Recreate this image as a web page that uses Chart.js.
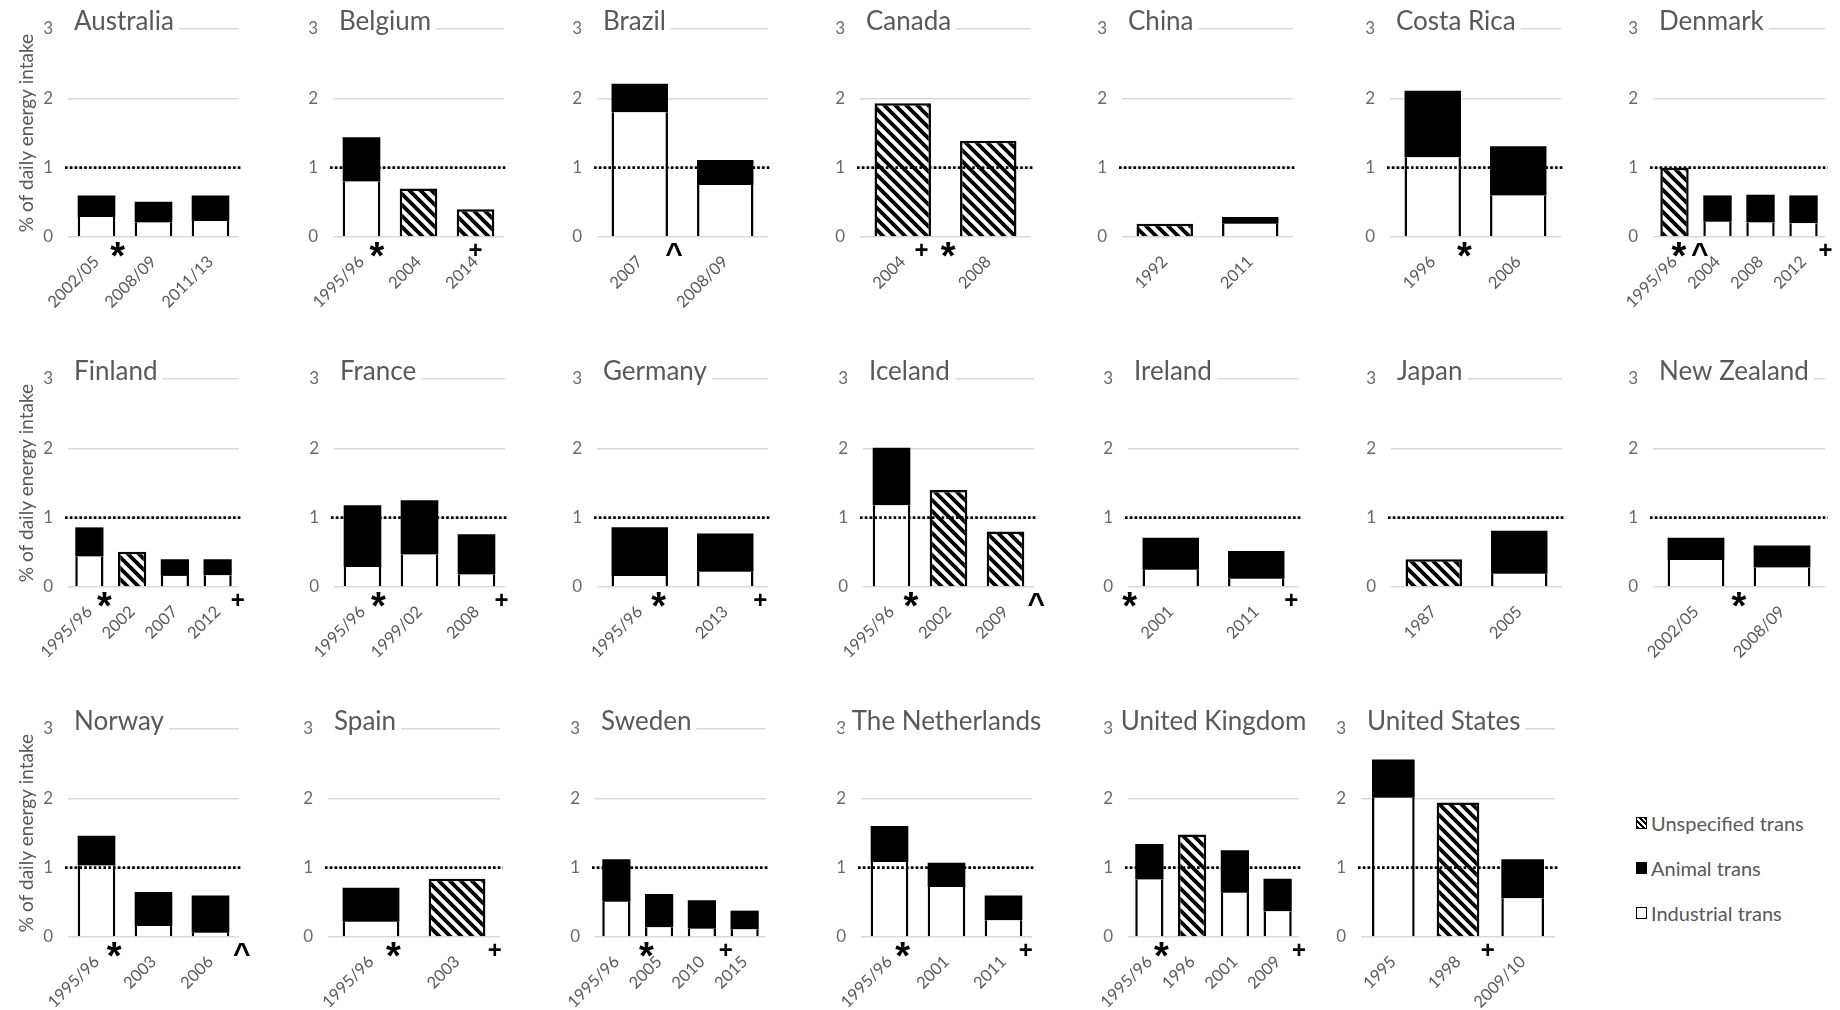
<!DOCTYPE html>
<html>
<head>
<meta charset="utf-8">
<script src="https://cdn.jsdelivr.net/npm/chart.js@4.4.1/dist/chart.umd.min.js"></script>
<style>
  html, body { margin: 0; padding: 0; background: #ffffff; }
  body { width: 1840px; height: 1010px; position: relative; overflow: hidden; font-family: Lato, "Open Sans", sans-serif; }
  canvas.panel { position: absolute; }
  #legend { position: absolute; left: 1636px; top: 810px; }
  #legend .item { display: flex; align-items: center; height: 26px; margin-bottom: 19px; }
  #legend .sw { width: 9px; height: 10px; border: 1.5px solid #000; box-sizing: content-box; }
  #legend .lbl { margin-left: 4px; font: 20px Lato, sans-serif; color: #595959; white-space: nowrap; }
</style>
</head>
<body>
<div id="legend"></div>
<script>
// ---------------- DATA ----------------
const countries = ['Australia','Belgium','Brazil','Canada','China','Costa Rica','Denmark',
  'Finland','France','Germany','Iceland','Ireland','Japan','New Zealand',
  'Norway','Spain','Sweden','The Netherlands','United Kingdom','United States'];

const surveyYears = [
  ['2002/05','2008/09','2011/13'],
  ['1995/96','2004','2014'],
  ['2007','2008/09'],
  ['2004','2008'],
  ['1992','2011'],
  ['1996','2006'],
  ['1995/96','2004','2008','2012'],
  ['1995/96','2002','2007','2012'],
  ['1995/96','1999/02','2008'],
  ['1995/96','2013'],
  ['1995/96','2002','2009'],
  ['2001','2011'],
  ['1987','2005'],
  ['2002/05','2008/09'],
  ['1995/96','2003','2006'],
  ['1995/96','2003'],
  ['1995/96','2005','2010','2015'],
  ['1995/96','2001','2011'],
  ['1995/96','1996','2001','2009'],
  ['1995','1998','2009/10']
];

const industrialTrans = [
  [0.29,0.21,0.23],
  [0.80,null,null],
  [1.80,0.75],
  [null,null],
  [null,0.19],
  [1.15,0.60],
  [null,0.22,0.21,0.20],
  [0.44,null,0.16,0.17],
  [0.29,0.47,0.18],
  [0.16,0.22],
  [1.18,null,null],
  [0.25,0.12],
  [null,0.19],
  [0.39,0.28],
  [1.03,0.16,0.06],
  [0.22,null],
  [0.51,0.14,0.12,0.11],
  [1.08,0.72,0.24],
  [0.83,null,0.64,0.37],
  [2.01,null,0.56]
];

const animalTrans = [
  [0.31,0.30,0.37],
  [0.64,null,null],
  [0.41,0.36],
  [null,null],
  [null,0.10],
  [0.96,0.71],
  [null,0.38,0.40,0.40],
  [0.42,null,0.24,0.23],
  [0.89,0.78,0.58],
  [0.70,0.55],
  [0.83,null,null],
  [0.46,0.40],
  [null,0.62],
  [0.32,0.32],
  [0.43,0.49,0.54],
  [0.49,null],
  [0.61,0.48,0.41,0.27],
  [0.52,0.35,0.36],
  [0.51,null,0.61,0.47],
  [0.55,null,0.56]
];

const unspecifiedTrans = [
  [null,null,null],
  [null,0.70,0.40],
  [null,null],
  [1.93,1.39],
  [0.19,null],
  [null,null],
  [1.00,null,null,null],
  [null,0.51,null,null],
  [null,null,null],
  [null,null],
  [null,1.40,0.80],
  [null,null],
  [0.40,null],
  [null,null],
  [null,null,null],
  [null,0.84],
  [null,null,null,null],
  [null,null,null],
  [null,1.48,null,null],
  [null,1.94,null]
];

// significance marks: [category position (index units), symbol]
const significanceMarks = [
  [[0.37,'*']],
  [[0.27,'*'],[2.00,'+']],
  [[0.40,'^']],
  [[0.22,'+'],[0.53,'*']],
  [],
  [[0.37,'*']],
  [[0.10,'*'],[0.59,'^'],[3.51,'+']],
  [[0.35,'*'],[3.47,'+']],
  [[0.28,'*'],[2.44,'+']],
  [[0.22,'*'],[1.41,'+']],
  [[0.34,'*'],[2.54,'^']],
  [[-0.48,'*'],[1.41,'+']],
  [],
  [[0.50,'*']],
  [[0.31,'*'],[2.55,'^']],
  [[0.26,'*'],[1.44,'+']],
  [[0.70,'*'],[2.56,'+']],
  [[0.23,'*'],[2.39,'+']],
  [[0.28,'*'],[3.50,'+']],
  [[1.46,'+']]
];

const seriesNames = ['Industrial trans','Animal trans','Unspecified trans'];
const yTickValues = [0,1,2,3];
const referenceLevel = 1;
const yAxisTitle = '% of daily energy intake';

// ---------------- LAYOUT ----------------
const plotLefts = [[68,333,597,860,1122,1390,1653],[68,334,597,863,1128,1391,1653],[68,328,595,861,1128,1361]];
const plotWidths = [[171,171,171,171,171,171,172],[171,171,171,171,171,171,172],[171,172,171,171,171,194]];
const topLineY = [29,379,729];
const PLOT_H = 208, TOP_PAD = 30, RIGHT_PAD = 14, X_AXIS_H = 75;
const GRAY = '#595959';

function makeHatchTile() {
  const s = 11;
  const c = document.createElement('canvas'); c.width = s; c.height = s;
  const g = c.getContext('2d');
  g.fillStyle = '#fff'; g.fillRect(0, 0, s, s);
  g.strokeStyle = '#000'; g.lineWidth = 3.8;
  g.beginPath();
  for (const k of [-s, 0, s]) { g.moveTo(-2, k - 2); g.lineTo(s + 2, k + s + 2); }
  g.stroke();
  return c;
}
const hatchTile = makeHatchTile();

const panelDecor = {
  id: 'panelDecor',
  afterDatasetsDraw(chart, args, opts) {
    const { ctx, chartArea, scales: { x, y } } = chart;
    // reference line at 1
    const yy = y.getPixelForValue(referenceLevel);
    ctx.save();
    ctx.strokeStyle = '#000'; ctx.lineWidth = 2.8; ctx.setLineDash([2.6, 2.2]);
    ctx.beginPath(); ctx.moveTo(chartArea.left - 3, yy); ctx.lineTo(chartArea.right + 3, yy); ctx.stroke();
    ctx.setLineDash([]);
    // significance marks
    const zeroY = y.getPixelForValue(0);
    ctx.fillStyle = '#000'; ctx.textAlign = 'center'; ctx.textBaseline = 'alphabetic';
    for (const [pos, sym] of opts.marks) {
      const px = x.getPixelForValue(pos);
      const size = sym === '*' ? 38 : (sym === '+' ? 24 : 30);
      ctx.font = 'bold ' + size + 'px "Liberation Sans", Arial, sans-serif';
      const m = ctx.measureText(sym);
      const cy = zeroY + 12;
      const base = cy + (m.actualBoundingBoxAscent - m.actualBoundingBoxDescent) / 2;
      ctx.fillText(sym, px, base);
    }
    // panel title covering the top grid line
    const y3 = y.getPixelForValue(3);
    ctx.font = '26px Lato, sans-serif';
    const w = ctx.measureText(opts.title).width;
    const cx = (chartArea.left + chartArea.right) / 2;
    const tx = Math.min(chartArea.left + 6, cx - w / 2);
    ctx.fillStyle = '#fff';
    const bx = Math.min(chartArea.left, tx - 8);
    ctx.fillRect(bx, y3 - 3, tx + w + 5 - bx, 6);
    ctx.fillStyle = GRAY; ctx.textAlign = 'left';
    ctx.fillText(opts.title, tx, y3 + 1);
    ctx.restore();
  }
};

let usChart = null;

countries.forEach((name, i) => {
  const row = Math.floor(i / 7), col = i % 7;
  const plotLeft = plotLefts[row][col], plotW = plotWidths[row][col];
  const yW = col === 0 ? plotLeft : 60;
  const W = yW + plotW + RIGHT_PAD, H = TOP_PAD + PLOT_H + X_AXIS_H;
  const cv = document.createElement('canvas');
  cv.className = 'panel';
  cv.width = W; cv.height = H;
  cv.style.width = W + 'px'; cv.style.height = H + 'px';
  cv.style.left = (plotLeft - yW) + 'px';
  cv.style.top = (topLineY[row] - TOP_PAD) + 'px';
  document.body.appendChild(cv);
  const ctx = cv.getContext('2d');
  const hatch = ctx.createPattern(hatchTile, 'repeat');

  const common = { barPercentage: 0.66, categoryPercentage: 1 };
  const chart = new Chart(ctx, {
    type: 'bar',
    data: {
      labels: surveyYears[i],
      datasets: [
        Object.assign({ label: seriesNames[0], data: industrialTrans[i], backgroundColor: '#ffffff', borderColor: '#000000',
                        borderWidth: { left: 2.5, right: 2.5, top: 0, bottom: 0 }, borderSkipped: false }, common),
        Object.assign({ label: seriesNames[1], data: animalTrans[i], backgroundColor: '#000000', borderColor: '#000000', borderWidth: 0 }, common),
        Object.assign({ label: seriesNames[2], data: unspecifiedTrans[i], backgroundColor: hatch, borderColor: '#000000',
                        borderWidth: 2.5, borderSkipped: 'start' }, common)
      ]
    },
    options: {
      responsive: false,
      animation: false,
      devicePixelRatio: 1,
      layout: { padding: { top: TOP_PAD, right: RIGHT_PAD, left: 0, bottom: 0 } },
      plugins: {
        legend: { display: false },
        tooltip: { enabled: false },
        panelDecor: { title: name, marks: significanceMarks[i] }
      },
      scales: {
        x: {
          stacked: true,
          grid: { display: false },
          border: { display: false },
          ticks: { minRotation: 45, maxRotation: 45, autoSkip: false, padding: 7, color: GRAY,
                   font: { family: 'Lato', size: 16.5 } },
          afterFit: (s) => { s.height = X_AXIS_H; }
        },
        y: {
          stacked: true,
          min: 0, max: 3,
          afterBuildTicks: (s) => { s.ticks = yTickValues.map(v => ({ value: v })); },
          ticks: { padding: 15, color: '#6b6b6b', font: { family: 'Lato', size: 17 } },
          grid: { color: '#d9d9d9', lineWidth: 1.5, drawTicks: false },
          border: { display: false },
          title: { display: col === 0, text: yAxisTitle, color: GRAY,
                   font: { family: 'Lato', size: 19 }, padding: { top: 15, bottom: 0 } },
          afterFit: (s) => { s.width = yW; }
        }
      }
    },
    plugins: [panelDecor]
  });
  if (name === 'United States') usChart = chart;
});

// legend built from the series of the charts
const legendEl = document.getElementById('legend');
const swatchCss = [
  'background:#ffffff;',
  'background:#000000;',
  'background:repeating-linear-gradient(45deg,#000 0 2px,#fff 2px 4px);'
];
[2, 1, 0].forEach(k => {
  const item = document.createElement('div'); item.className = 'item';
  const sw = document.createElement('span'); sw.className = 'sw'; sw.style.cssText = swatchCss[k];
  const lb = document.createElement('span'); lb.className = 'lbl'; lb.textContent = usChart.data.datasets[k].label;
  item.appendChild(sw); item.appendChild(lb); legendEl.appendChild(item);
});
</script>
</body>
</html>
